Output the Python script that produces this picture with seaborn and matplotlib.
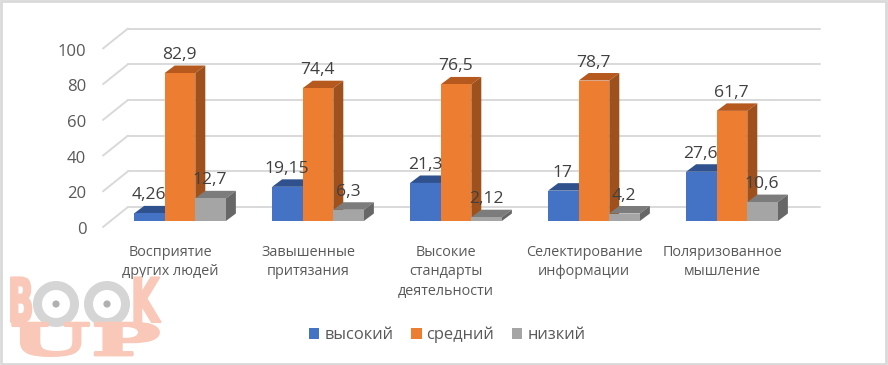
import numpy as np
import pandas as pd
import matplotlib
matplotlib.use('Agg')
import matplotlib.pyplot as plt
import seaborn as sns
from matplotlib.patches import Polygon, Rectangle, Annulus, Circle
from matplotlib.patheffects import AbstractPathEffect
from matplotlib.transforms import Affine2D, ScaledTranslation

# Chart data
categories = ['Восприятие\nдругих людей', 'Завышенные\nпритязания', 'Высокие\nстандарты\nдеятельности',
              'Селектирование\nинформации', 'Поляризованное\nмышление']
levels = ['высокий', 'средний', 'низкий']
high_values = [4.26, 19.15, 21.3, 17, 27.6]
mid_values = [82.9, 74.4, 76.5, 78.7, 61.7]
low_values = [12.7, 6.3, 2.12, 4.2, 10.6]
y_ticks = [0, 20, 40, 60, 80, 100]

# Colors for front, top and side of each bar
front_colors = ['#4472C4', '#ED7D31', '#A5A5A5']
top_colors = ['#2F528F', '#B5591F', '#7C7C7C']
side_colors = ['#27457A', '#9E511C', '#676767']
grid_color = '#D9D9D9'

df = pd.DataFrame({
    'category': categories * 3,
    'level': np.repeat(levels, len(categories)),
    'value': high_values + mid_values + low_values,
})

sns.set_style('white')
plt.rcParams['font.family'] = ['Open Sans', 'DejaVu Sans']

W, H = 888, 365
fig = plt.figure(figsize=(W / 100, H / 100), dpi=100)
left, right, top, bottom = 103, 820, 28.5, 221
ax = fig.add_axes([left / W, 1 - bottom / H, (right - left) / W, (bottom - top) / H])

sns.barplot(data=df, x='category', y='value', hue='level', hue_order=levels, palette=front_colors,
            width=0.665, gap=0, saturation=1, ax=ax, legend=False)

# Axes scale: 138 px per category, 1.785 px per unit
px_x = 1 / 138
px_y = 1 / 1.785
ax.set_xlim((left - 180) * px_x, (right - 180) * px_x)
ax.set_ylim(0, (bottom - top) * px_y)
ax.set_xlabel('')
ax.set_ylabel('')
sns.despine(ax=ax, left=True, bottom=True, top=True, right=True)

# Back wall and side wall gridlines
wall_lift = 14 * px_y
floor_drop = 6 * px_y
wall_dx = 25 * px_x
x0, x1 = ax.get_xlim()
for v in y_ticks:
    ax.plot([x0 + wall_dx, x1], [v + wall_lift, v + wall_lift], color=grid_color, lw=1.4, zorder=1, clip_on=False)
    ax.plot([x0, x0 + wall_dx], [v - floor_drop, v + wall_lift], color=grid_color, lw=1.4, zorder=1, clip_on=False)

# Depth faces and value labels for each bar
dx = 10 * px_x
dy = 7.5 * px_y
for i, container in enumerate(ax.containers):
    z = 3 + i * 0.1
    for bar in container:
        bx, bw, h = bar.get_x(), bar.get_width(), bar.get_height()
        bar.set_zorder(z + 0.02)
        bar.set_linewidth(0)
        ax.add_patch(Polygon([(bx, h), (bx + dx, h + dy), (bx + bw + dx, h + dy), (bx + bw, h)],
                             facecolor=top_colors[i], lw=0, zorder=z))
        ax.add_patch(Polygon([(bx + bw, 0), (bx + bw + dx, dy), (bx + bw + dx, h + dy), (bx + bw, h)],
                             facecolor=side_colors[i], lw=0, zorder=z))
        ax.annotate(f'{h:g}'.replace('.', ','), (bx + bw / 2, h), xytext=(-0.5 * 0.72, 18 * 0.72), textcoords='offset points',
                    ha='center', va='center', fontsize=12.6, color='#404040', zorder=6, annotation_clip=False)

# Tick labels, moved to sit in front of the floor
ax.set_xticks(range(len(categories)), categories)
ax.set_yticks(y_ticks)
ax.tick_params(axis='x', length=0, pad=17, labelsize=10.4, labelcolor='#595959')
ax.tick_params(axis='y', length=0, pad=12, labelsize=12, labelcolor='#595959')
for label in ax.get_xticklabels():
    label.set_transform(label.get_transform() + ScaledTranslation(-10 / 72 * 0.72, 0, fig.dpi_scale_trans))
    label.set_linespacing(1.42)
for label in ax.get_yticklabels():
    label.set_transform(label.get_transform() + ScaledTranslation(0, -7 / 72 * 0.72, fig.dpi_scale_trans))

# Legend
handles = [Rectangle((0, 0), 1, 1, facecolor=c, lw=0) for c in front_colors]
ax.legend(handles, levels, ncol=3, frameon=False, loc='center', fontsize=11.9, labelcolor='#595959',
          bbox_to_anchor=(447 / W, 1 - 335 / H), bbox_transform=fig.transFigure,
          handlelength=0.65, handleheight=0.65, handletextpad=0.3, columnspacing=1.05)


# Stretches text horizontally around its anchor, for the logo letters
class Stretch(AbstractPathEffect):
    def __init__(self, anchor, sx, stroke=0):
        super().__init__()
        self.anchor = anchor
        self.sx = sx
        self.stroke = stroke

    def draw_path(self, renderer, gc, tpath, affine, rgbFace=None):
        new_affine = affine + Affine2D().translate(-self.anchor, 0).scale(self.sx, 1).translate(self.anchor, 0)
        gc0 = renderer.new_gc()
        gc0.copy_properties(gc)
        gc0.set_linewidth(self.stroke)
        gc0.set_foreground(rgbFace)
        renderer.draw_path(gc0, tpath, new_affine, rgbFace)
        gc0.restore()


# Watermark, positioned in image pixels
px = Affine2D().scale(1, -1).translate(0, H)
pink = '#F9C8B8'
ring = '#D5D5D5'
def logo_text(s, x, y, size, sx, family, stroke=0):
    fig.text(x, y, s, transform=px, fontsize=size, color=pink, family=family, weight='bold',
             ha='left', va='baseline', zorder=0, path_effects=[Stretch(x, sx, stroke)])

logo_text('B', 8, 322, 44, 0.55, 'DejaVu Sans', stroke=1.5)
logo_text('K', 131, 322, 44, 0.6, 'DejaVu Sans', stroke=1.5)
logo_text('UP', 9.5, 355, 31.5, 2.13, 'DejaVu Serif', stroke=2)
for cx in [56, 107]:
    fig.add_artist(Annulus((cx, 304), 23, 9, facecolor=ring, lw=0, transform=px, zorder=0))
    fig.add_artist(Circle((cx, 304), 3.6, facecolor='#B0B0B0', lw=0, transform=px, zorder=0))

# Image border
fig.add_artist(Rectangle((1, 1), W - 3, H - 2, facecolor='none', edgecolor=grid_color, lw=2, transform=px))

fig.savefig('out.png', dpi=100)
